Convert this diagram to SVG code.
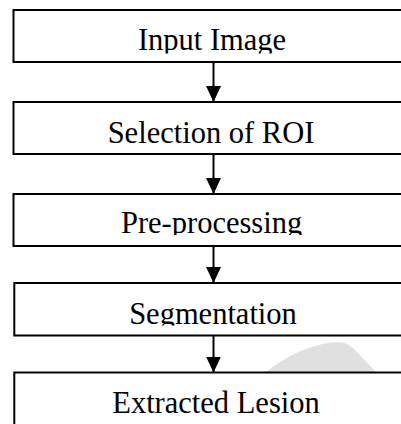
<svg xmlns="http://www.w3.org/2000/svg" width="401" height="424" viewBox="0 0 401 424">
  <style>
    .box { fill: #ffffff; stroke: #000000; stroke-width: 2; }
    .lbl { font-family: "Liberation Serif", "Times New Roman", serif; font-size: 30.5px; fill: #000000; text-anchor: middle; }
    .conn { stroke: #000000; stroke-width: 2; fill: none; }
  </style>
  <defs>
    <marker id="ah" viewBox="0 0 16 15" refX="16" refY="7.5" markerWidth="16" markerHeight="15" markerUnits="userSpaceOnUse" orient="auto">
      <path d="M0,0 L16,7.5 L0,15 Z" fill="#000000"/>
    </marker>
    <clipPath id="c1"><rect x="0" y="0" width="401" height="53.5"/></clipPath>
    <clipPath id="c3"><rect x="0" y="194" width="401" height="41"/></clipPath>
    <clipPath id="c4"><rect x="0" y="283" width="401" height="42.5"/></clipPath>
  </defs>

  <path id="watermark" d="M265,373 C285,356 310,345 332,342.5 C342,341.5 348,343 354,349 C362,357 370,366 377,373 Z" fill="#e0e0e0"/>

  <g id="n1">
    <rect class="box" x="13.5" y="10" width="400" height="52"/>
    <text class="lbl" x="212" y="50" clip-path="url(#c1)">Input Image</text>
  </g>
  <g id="n2">
    <rect class="box" x="13.5" y="102" width="400" height="52"/>
    <text class="lbl" x="211" y="143.3">Selection of ROI</text>
  </g>
  <g id="n3">
    <rect class="box" x="13.5" y="194" width="400" height="52"/>
    <text class="lbl" x="211.6" y="233.3" clip-path="url(#c3)">Pre-processing</text>
  </g>
  <g id="n4">
    <rect class="box" x="14.3" y="283" width="400" height="52.5"/>
    <text class="lbl" x="213" y="324" clip-path="url(#c4)">Segmentation</text>
  </g>
  <g id="n5">
    <rect class="box" x="14.3" y="372.5" width="400" height="60"/>
    <text class="lbl" x="216" y="413.3">Extracted Lesion</text>
  </g>

  <g id="connectors">
    <line class="conn" x1="213.5" y1="62" x2="213.5" y2="102" marker-end="url(#ah)"/>
    <line class="conn" x1="213.5" y1="154" x2="213.5" y2="194" marker-end="url(#ah)"/>
    <line class="conn" x1="213.5" y1="246" x2="213.5" y2="283" marker-end="url(#ah)"/>
    <line class="conn" x1="213.5" y1="335.5" x2="213.5" y2="372.5" marker-end="url(#ah)"/>
  </g>
</svg>
